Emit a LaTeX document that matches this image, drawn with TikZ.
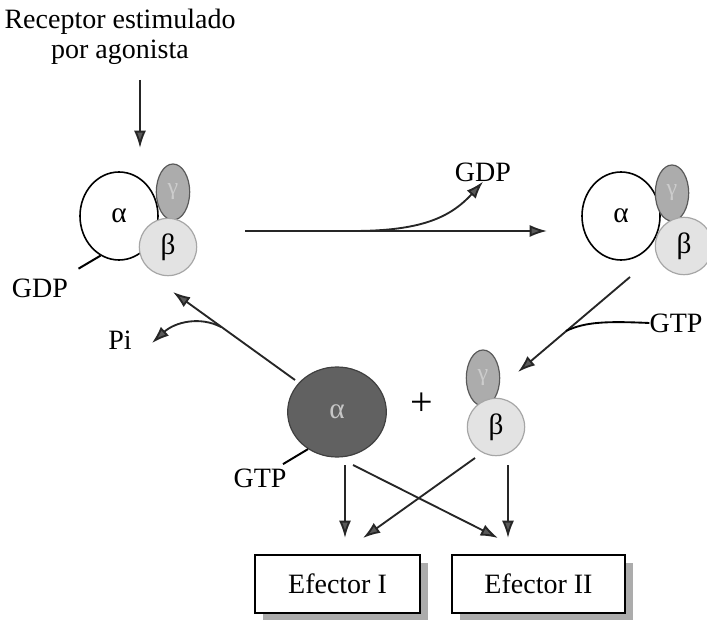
\documentclass[tikz,border=0pt]{standalone}
\usepackage{fontspec}
\setmainfont{Liberation Serif}
\usetikzlibrary{arrows.meta,shapes.geometric,shadows}

\tikzset{
  flecha/.style={draw=black!85, line width=1.4pt,
    -{Latex[length=13pt,width=9pt,fill=black!65]}},
  texto/.style={font=\fontsize{21}{22.5}\selectfont, inner sep=0pt},
  subalfa/.style={ellipse, draw, line width=1.2pt, fill=white,
    minimum width=58.5pt, minimum height=66pt, inner sep=0pt, font=\fontsize{22}{22}\selectfont},
  subgamma/.style={ellipse, draw=black!65, line width=0.9pt, fill=gray!65,
    minimum width=25pt, minimum height=42pt, inner sep=0pt, text=white!80!black,
    font=\fontsize{18}{18}\selectfont},
  subbeta/.style={circle, draw=gray!70, line width=0.9pt, fill=gray!22,
    minimum size=43pt, inner sep=0pt, font=\fontsize{22}{22}\selectfont},
  efector/.style={draw, line width=1pt, fill=white, minimum height=43.5pt,
    font=\fontsize{21}{22}\selectfont,
    drop shadow={shadow xshift=6pt, shadow yshift=-6pt, fill=gray!65, opacity=1}}
}

\begin{document}
\begin{tikzpicture}[x=0.75pt, y=-0.75pt]
  \useasboundingbox (0,0) rectangle (707,620);
  \clip (0,0) rectangle (707,620);

  % texto de arriba
  \node[texto, align=center] (receptor) at (120,37) {Receptor estimulado\\por agonista};
  \coordinate (r1) at (140,80);
  \coordinate (r2) at (140,148);
  \draw[flecha] (r1) -- (r2);

  % complejo alfa-beta-gamma con GDP
  \node[subalfa] (alfaA) at (119,216) {α};
  \node[subgamma] (gamaA) at (173,192) {γ};
  \node[subbeta] (betaA) at (168,247) {β};
  \draw[line width=1.5pt] (alfaA.245) -- ++(-22,13);
  \node[texto] (gdpA) at (40,288) {GDP};

  % salida de GDP
  \coordinate (h1) at (245,231);
  \coordinate (h2) at (547,231);
  \coordinate (h3) at (353,231);
  \node[texto] (gdpB) at (483,172) {GDP};
  \draw[flecha] (h1) -- (h2);
  \draw[flecha] (h3) .. controls (420,231) and (450,218) .. (gdpB.south);

  % complejo vacio
  \node[subalfa] (alfaB) at (621,216) {α};
  \node[subgamma] (gamaB) at (672,193) {γ};
  \node[subbeta] (betaB) at (684,246) {β};

  % entrada de GTP
  \node[texto] (gtpA) at (676,323) {GTP};
  \coordinate (g1) at (630,277);
  \coordinate (g2) at (566,331);
  \draw[flecha] (g1) -- (518,372);
  \draw[line width=1.4pt] (gtpA.west) .. controls (605,321) and (585,322) .. (g2);

  % alfa-GTP y beta-gamma separados
  \node[ellipse, draw=black!75, line width=0.9pt, fill=black!62, minimum width=74pt,
    minimum height=67.5pt, text=gray!45, font=\fontsize{22}{22}\selectfont] (alfaC) at (337,412) {α};
  \node[texto, font=\fontsize{30}{30}\selectfont] (mas) at (422,404) {+};
  \node[subgamma] (gamaC) at (483,378) {γ};
  \node[subbeta] (betaC) at (496,427) {β};
  \draw[line width=1.5pt] (alfaC.232) -- ++(-25,15);
  \node[texto] (gtpB) at (260,478) {GTP};

  % hidrolisis: vuelta al complejo
  \coordinate (p1) at (295,380);
  \coordinate (p2) at (173,292);
  \coordinate (p3) at (221,327);
  \node[texto] (pi) at (120,340) {Pi};
  \draw[flecha] (p1) -- (p2);
  \draw[flecha] (p3) .. controls (200,316) and (175,322) .. (152,343);

  % efectores
  \node[efector, minimum width=123.75pt] (efI) at (337.5,584) {Efector I};
  \node[efector, minimum width=129.75pt] (efII) at (538.5,584) {Efector II};
  \coordinate (e1) at (345,465);
  \coordinate (e2) at (353,465);
  \coordinate (e3) at (475,458);
  \coordinate (e4) at (508,465);
  \draw[flecha] (e1) -- (e1 |- 0,538);
  \draw[flecha] (e2) -- (498,538);
  \draw[flecha] (e3) -- (363,538);
  \draw[flecha] (e4) -- (e4 |- 0,538);
\end{tikzpicture}
\end{document}
